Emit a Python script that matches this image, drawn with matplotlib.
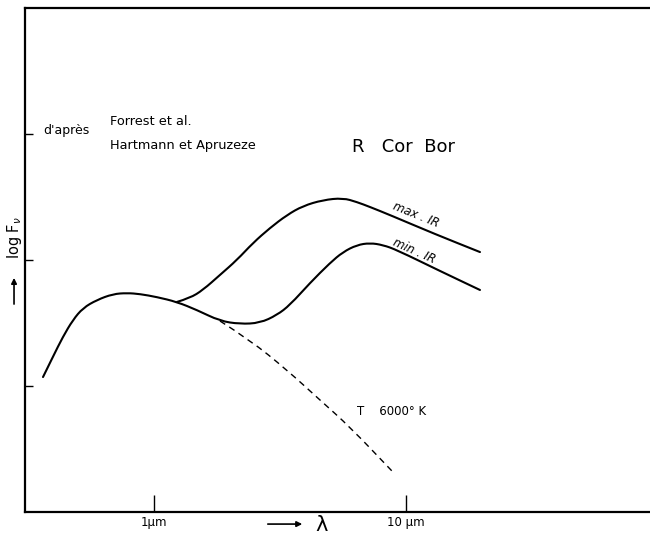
import matplotlib
matplotlib.use("Agg")
import matplotlib.pyplot as plt
from matplotlib.path import Path
from matplotlib.patches import PathPatch
import numpy as np

### ------------------------------ Data ------------------------------ ###

# wavelength in micron, log F_nu in arbitrary units (ticks at 1, 2, 3)
base_lam = [0.363, 0.397, 0.435, 0.477, 0.523, 0.594, 0.688, 0.782, 0.880, 1.028, 1.234]
base_logf = [1.071, 1.230, 1.389, 1.524, 1.619, 1.683, 1.730, 1.738, 1.730, 1.706, 1.667]

max_lam = [1.234, 1.390, 1.565, 1.828, 2.135, 2.471, 2.886, 3.372, 3.902, 4.685, 5.623,
           6.391, 7.197, 8.640, 13.03, 19.67]
max_logf = [1.667, 1.698, 1.762, 1.881, 2.000, 2.135, 2.254, 2.357, 2.429, 2.476, 2.492,
            2.460, 2.421, 2.357, 2.206, 2.063]

min_lam = [1.234, 1.481, 1.828, 2.194, 2.634, 3.077, 3.466, 4.159, 4.993, 5.623, 6.391,
           7.197, 8.105, 9.211, 13.64, 19.67]
min_logf = [1.667, 1.603, 1.516, 1.492, 1.500, 1.563, 1.643, 1.817, 1.976, 2.063, 2.119,
            2.135, 2.119, 2.079, 1.913, 1.762]

bb_lam = [1.828, 2.404, 3.372, 4.557, 5.995, 8.88]   # black body T = 6000 K
bb_logf = [1.516, 1.365, 1.127, 0.889, 0.675, 0.317]

xtick_pos = [1, 10]
xtick_labels = ["1µm", "10 µm"]
ytick_pos = [1, 2, 3]


def smooth_path(xs, ys):
    # quadratic bezier through the midpoints (geometric in x, log axis), like a french curve
    verts = [(xs[0], ys[0])]
    codes = [Path.MOVETO]
    for i in range(1, len(xs) - 1):
        mid = (np.sqrt(xs[i] * xs[i + 1]), (ys[i] + ys[i + 1]) / 2)
        verts += [(xs[i], ys[i]), mid]
        codes += [Path.CURVE3, Path.CURVE3]
    verts.append((xs[-1], ys[-1]))
    codes.append(Path.LINETO)
    return Path(verts, codes)


### ------------------------------ Figure ------------------------------ ###

plt.rcParams['font.family'] = ['DejaVu Sans']

fig = plt.figure(figsize=(6.5, 5.37), dpi=100)
ax = fig.add_axes([0.0385, 0.0466, 0.9615, 0.9385])

ax.set_xscale("log")
ax.set_xlim(0.308, 93)
ax.set_ylim(0, 4)

lw = 1.5
lower_lam = base_lam[:-1] + min_lam
lower_logf = base_logf[:-1] + min_logf
ax.add_patch(PathPatch(smooth_path(lower_lam, lower_logf), fill=False, ec="black", lw=lw,
                       capstyle="round"))
ax.add_patch(PathPatch(smooth_path(max_lam, max_logf), fill=False, ec="black", lw=lw,
                       capstyle="round"))
ax.add_patch(PathPatch(smooth_path(bb_lam, bb_logf), fill=False, ec="black", lw=1.0,
                       ls=(0, (4.5, 3.5))))

ax.set_xticks(xtick_pos)
ax.set_xticklabels(xtick_labels, fontsize=8.5)
ax.minorticks_off()
ax.set_yticks(ytick_pos)
ax.set_yticklabels([])
ax.tick_params(axis="x", direction="in", length=12, width=1, pad=3)
ax.tick_params(axis="y", direction="in", length=6, width=1)

ax.spines["right"].set_visible(False)
for side in ["left", "top", "bottom"]:
    ax.spines[side].set_linewidth(1.6)

### ------------------------------ Labels ------------------------------ ###

ax.text(0.0288, 0.756, "d'après", transform=ax.transAxes, fontsize=9, va="center")
ax.text(0.136, 0.774, "Forrest et al.", transform=ax.transAxes, fontsize=9.3, va="center")
ax.text(0.136, 0.728, "Hartmann et Apruzeze", transform=ax.transAxes, fontsize=9.3, va="center")
ax.text(0.523, 0.724, "R   Cor  Bor", transform=ax.transAxes, fontsize=13, va="center")

ax.text(10.96, 2.357, "max . IR", fontsize=8.5, style="italic", rotation=-22,
        ha="center", va="center", rotation_mode="anchor")
ax.text(10.76, 2.07, "min . IR", fontsize=8.5, style="italic", rotation=-24,
        ha="center", va="center", rotation_mode="anchor")
ax.text(6.39, 0.794, "T    6000° K", fontsize=8.5, va="center")

# x axis label: arrow + lambda
ax.annotate("", xy=(0.448, -0.024), xytext=(0.384, -0.024), xycoords="axes fraction",
            arrowprops=dict(arrowstyle="-|>", color="black", lw=1.2, mutation_scale=8),
            annotation_clip=False)
ax.text(0.475, -0.026, "λ", transform=ax.transAxes, fontsize=15, ha="center", va="center")

# y axis label: log F_nu + arrow
ax.text(-0.0176, 0.544, r"log F$_\nu$", transform=ax.transAxes, fontsize=10.5, rotation=90,
        ha="center", va="center")
ax.annotate("", xy=(-0.0176, 0.470), xytext=(-0.0176, 0.407), xycoords="axes fraction",
            arrowprops=dict(arrowstyle="-|>", color="black", lw=1.2, mutation_scale=8),
            annotation_clip=False)

fig.savefig("out.png", dpi=100)
